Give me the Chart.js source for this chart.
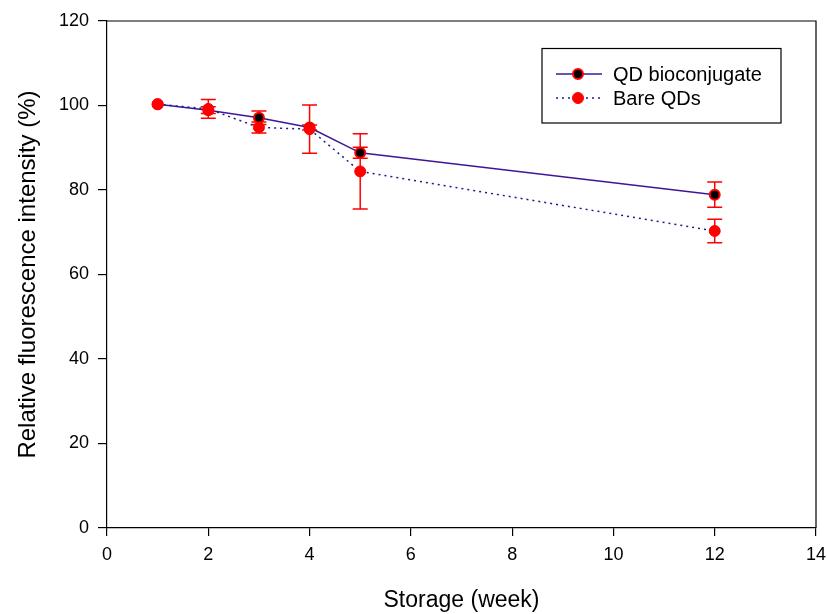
<!DOCTYPE html>
<html>
<head>
<meta charset="utf-8">
<script src="https://cdn.jsdelivr.net/npm/chart.js@4/dist/chart.umd.min.js"></script>
<style>
html,body{margin:0;padding:0;background:#fff;}
#wrap{width:827px;height:614px;position:relative;}
</style>
</head>
<body>
<div id="wrap"><canvas id="c"></canvas></div>
<script>
// ---- data ----
const weeks = [1, 2, 3, 4, 5, 12];
const qdValues = [100.3, 98.9, 97.1, 94.8, 88.8, 78.9];
const qdErrors = [0, 0.8, 1.6, 0.6, 1.3, 3.0];
const bareValues = [100.3, 99.2, 94.8, 94.4, 84.4, 70.3];
const bareErrors = [0, 2.2, 1.3, 5.7, 8.9, 2.8];
const seriesLabels = ['QD bioconjugate', 'Bare QDs'];
const xTitle = 'Storage (week)';
const yTitle = 'Relative fluorescence intensity (%)';

const FONT = "'Liberation Sans', Arial, sans-serif";
const QD_LINE = '#3f1796';
const BARE_LINE = '#1c1c90';
const RED = '#ff0000';

const errorBarPlugin = {
  id: 'errorBars',
  beforeDatasetsDraw(chart) {
    const ctx = chart.ctx, xs = chart.scales.x, ys = chart.scales.y;
    const sets = [[qdValues, qdErrors], [bareValues, bareErrors]];
    ctx.save();
    ctx.strokeStyle = RED;
    ctx.lineWidth = 1.5;
    sets.forEach(([vals, errs]) => {
      weeks.forEach((w, i) => {
        if (!errs[i]) return;
        const px = xs.getPixelForValue(w);
        const top = ys.getPixelForValue(vals[i] + errs[i]);
        const bot = ys.getPixelForValue(vals[i] - errs[i]);
        ctx.beginPath();
        ctx.moveTo(px, top); ctx.lineTo(px, bot);
        ctx.moveTo(px - 7.5, top); ctx.lineTo(px + 7.5, top);
        ctx.moveTo(px - 7.5, bot); ctx.lineTo(px + 7.5, bot);
        ctx.stroke();
      });
    });
    ctx.restore();
  }
};

const frameAndLegendPlugin = {
  id: 'frameLegend',
  afterDraw(chart) {
    const ctx = chart.ctx, a = chart.chartArea;
    ctx.save();
    ctx.strokeStyle = '#000';
    ctx.lineWidth = 1.2;
    ctx.beginPath();
    ctx.moveTo(a.left, a.top); ctx.lineTo(a.right, a.top); ctx.lineTo(a.right, a.bottom);
    ctx.stroke();
    // legend box
    const bx = 542, by = 48.5, bw = 239, bh = 74.5;
    ctx.lineWidth = 1.2;
    ctx.strokeRect(bx, by, bw, bh);
    const rows = [74, 98];
    chart.data.datasets.forEach((ds, i) => {
      const y = rows[i];
      ctx.save();
      ctx.strokeStyle = ds.borderColor;
      ctx.lineWidth = ds.borderWidth;
      ctx.setLineDash(ds.borderDash || []);
      ctx.beginPath();
      ctx.moveTo(556, y); ctx.lineTo(602, y);
      ctx.stroke();
      ctx.setLineDash([]);
      ctx.beginPath();
      ctx.arc(578, y, ds.pointRadius, 0, Math.PI * 2);
      ctx.fillStyle = ds.pointBackgroundColor;
      ctx.fill();
      ctx.lineWidth = ds.pointBorderWidth;
      ctx.strokeStyle = ds.pointBorderColor;
      ctx.stroke();
      ctx.restore();
      ctx.fillStyle = '#000';
      ctx.font = '20px ' + FONT;
      ctx.textBaseline = 'middle';
      ctx.textAlign = 'left';
      ctx.fillText(ds.label, 613, y + 1);
    });
    ctx.restore();
  }
};

new Chart(document.getElementById('c'), {
  type: 'line',
  data: {
    datasets: [
      {
        label: seriesLabels[0],
        data: weeks.map((w, i) => ({x: w, y: qdValues[i]})),
        borderColor: QD_LINE,
        borderWidth: 1.5,
        pointRadius: 5,
        pointBackgroundColor: '#000',
        pointBorderColor: RED,
        pointBorderWidth: 2,
        tension: 0,
        order: 2
      },
      {
        label: seriesLabels[1],
        data: weeks.map((w, i) => ({x: w, y: bareValues[i]})),
        borderColor: BARE_LINE,
        borderWidth: 1.5,
        borderDash: [2, 4],
        pointRadius: 5.5,
        pointBackgroundColor: RED,
        pointBorderColor: RED,
        pointBorderWidth: 1,
        tension: 0,
        order: 1
      }
    ]
  },
  options: {
    responsive: true,
    maintainAspectRatio: false,
    animation: false,
    events: [],
    layout: {padding: {left: 14, right: 0, top: 21, bottom: 0}},
    plugins: {legend: {display: false}, tooltip: {enabled: false}},
    scales: {
      x: {
        type: 'linear', min: 0, max: 14,
        afterFit(s) { s.height = 86; s.paddingRight = 11; },
        ticks: {stepSize: 2, color: '#000', font: {family: FONT, size: 18}, padding: 8},
        grid: {drawOnChartArea: false, tickLength: 8, color: '#000', lineWidth: 1.2},
        border: {color: '#000', width: 1.2},
        title: {display: true, text: xTitle, color: '#000', font: {family: FONT, size: 23}, padding: {top: 0, bottom: 0}}
      },
      y: {
        type: 'linear', min: 0, max: 120,
        afterFit(s) { s.width = 93; },
        ticks: {stepSize: 20, color: '#000', font: {family: FONT, size: 18}, padding: 9},
        grid: {drawOnChartArea: false, tickLength: 9, color: '#000', lineWidth: 1.2},
        border: {color: '#000', width: 1.2},
        title: {display: true, text: yTitle, color: '#000', font: {family: FONT, size: 24}, padding: {top: 0, bottom: 0}}
      }
    }
  },
  plugins: [errorBarPlugin, frameAndLegendPlugin]
});
</script>
</body>
</html>
